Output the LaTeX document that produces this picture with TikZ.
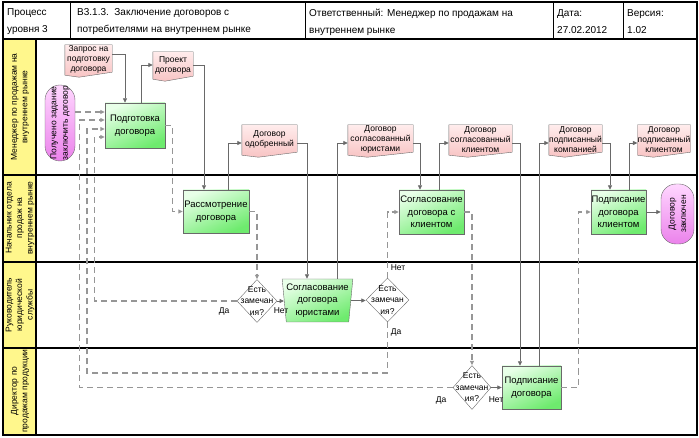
\documentclass[tikz,border=0pt]{standalone}
\usepackage{fontspec}
\setmainfont{Liberation Sans}
\usetikzlibrary{positioning,shapes.geometric,arrows.meta,backgrounds,calc}

\definecolor{laneyellow}{RGB}{255,247,140}
\definecolor{boxlight}{RGB}{232,255,232}
\definecolor{boxdark}{RGB}{110,235,110}
\definecolor{doclight}{RGB}{255,236,236}
\definecolor{docdark}{RGB}{248,196,196}
\definecolor{evlight}{RGB}{255,215,255}
\definecolor{evdark}{RGB}{235,130,235}
\definecolor{linegray}{RGB}{105,105,105}
\definecolor{dashgray}{RGB}{150,150,150}

\tikzset{
  task/.style={rectangle, draw=linegray, top color=boxlight, bottom color=boxdark,
    shading angle=25, inner sep=0pt, align=center, font=\fontsize{9.5}{12.5}\selectfont},
  doc/.style={rectangle, inner sep=0pt, minimum height=29pt, align=center,
    font=\fontsize{8.5}{10}\selectfont},
  docline/.style={draw=linegray, top color=doclight, bottom color=docdark},
  event/.style={rectangle, rounded corners=15pt, draw=linegray, top color=evlight,
    bottom color=evdark, inner sep=0pt},
  evtext/.style={rotate=90, align=center, font=\fontsize{8.5}{11.5}\selectfont},
  decision/.style={diamond, draw=linegray, fill=white, inner sep=0pt,
    minimum width=40pt, minimum height=43pt},
  qtext/.style={align=center, font=\fontsize{8.5}{11.5}\selectfont},
  ans/.style={inner sep=0pt, font=\fontsize{8.5}{10}\selectfont},
  flow/.style={draw=linegray, line width=0.8pt, -{Triangle[length=4.5pt,width=4pt]}},
  ctrl/.style={draw=dashgray, line width=1.2pt, dash pattern=on 6pt off 4pt,
    -{Triangle[length=4.5pt,width=4pt]}},
  lanelabel/.style={rotate=90, align=center, font=\fontsize{8.5}{10.5}\selectfont},
  headtext/.style={anchor=west, align=left, inner sep=0pt, font=\fontsize{10}{17}\selectfont}
}

\begin{document}
\begin{tikzpicture}[x=1pt, y=-1pt]
  \useasboundingbox (0,0) rectangle (699,438);

  % frame, header and lanes
  \fill[laneyellow] (3,39) rectangle (36,435);
  \draw[line width=1.6pt] (3,2) rectangle (697,435);
  \foreach \x in {70,305,553,623}
    \draw[line width=1pt] (\x,2) -- (\x,39);
  \foreach \y in {39,175,262,348}
    \draw[line width=1.6pt] (3,\y) -- (697,\y);
  \draw[line width=1.2pt] (36,39) -- (36,435);

  \node[headtext] (hproc) at (7,22) {Процесс\\уровня 3};
  \node[headtext] (htitle) at (77,22) {В3.1.3.\ \ Заключение договоров с\\потребителями на внутреннем рынке};
  \node[headtext] (hresp) at (309,22) {Ответственный: Менеджер по продажам на\\внутреннем рынке};
  \node[headtext] (hdate) at (557,22) {Дата:\\27.02.2012};
  \node[headtext] (hver) at (627,22) {Версия:\\1.02};

  \node[lanelabel] (lane1) at (20,107) {Менеджер по продажам на\\внутреннем рынке};
  \node[lanelabel] (lane2) at (20,218) {Начальник отдела\\продаж на\\внутреннем рынке};
  \node[lanelabel] (lane3) at (20,305) {Руководитель\\юридической\\службы};
  \node[lanelabel] (lane4) at (20,391) {Директор по\\продажам продукции};

  % functions
  \node[task, minimum width=60pt, minimum height=45pt] (prep) at (135,125.5) {Подготовка\\договора};
  \node[task, minimum width=66pt, minimum height=43pt] (rev) at (216,211.5) {Рассмотрение\\договора};
  \node[task, trapezium, trapezium left angle=97, trapezium right angle=97,
    trapezium stretches=true, minimum width=68pt, minimum height=43pt] (legal) at (317.5,300.5)
    {Согласование\\договора\\юристами};
  \node[task, minimum width=65pt, minimum height=44pt] (cli) at (431.5,212) {Согласование\\договора с\\клиентом};
  \node[task, minimum width=59pt, minimum height=43pt] (sign) at (531.5,387.5) {Подписание\\договора};
  \node[task, minimum width=55pt, minimum height=44pt] (signcli) at (618.5,212) {Подписание\\договора\\клиентом};

  % documents
  \node[doc, minimum width=47pt] (req) at (88.5,59.5) {Запрос на\\подготовку\\договора};
  \node[doc, minimum width=40pt, minimum height=26pt] (proj) at (173,65) {Проект\\договора};
  \node[doc, minimum width=55pt] (docapp) at (269.5,139.5) {Договор\\одобренный};
  \node[doc, minimum width=65pt] (docleg) at (380.5,139.5) {Договор\\согласованный\\юристами};
  \node[doc, minimum width=63pt] (doccli) at (480.5,139.5) {Договор\\согласованный\\клиентом};
  \node[doc, minimum width=53pt] (doccomp) at (575.5,139.5) {Договор\\подписанный\\компанией};
  \node[doc, minimum width=52pt] (doccl2) at (664,139.5) {Договор\\подписанный\\клиентом};
  \begin{pgfonlayer}{background}
    \foreach \d in {req,proj,docapp,docleg,doccli,doccomp,doccl2}
      \draw[docline] (\d.north west) -- (\d.north east) -- ($(\d.south east)+(0,-2)$)
        -- ($(\d.south west)!0.3!(\d.south east)+(0,3)$) -- ($(\d.south west)+(0,1)$) -- cycle;
  \end{pgfonlayer}

  % events
  \node[event, minimum width=30pt, minimum height=76pt,
    label={[evtext]center:Получено задание\\заключить договор}] (start) at (60,123) {};
  \node[event, minimum width=33pt, minimum height=60pt,
    label={[evtext]center:Договор\\заключен}] (end) at (677.5,214) {};

  % decisions
  \node[decision, label={[qtext]center:Есть\\замечан\\ия?}] (d1) at (257,301) {};
  \node[decision, minimum width=43pt, minimum height=44pt,
    label={[qtext]center:Есть\\замечан\\ия?}] (d2) at (387.5,300) {};
  \node[decision, minimum width=38pt, minimum height=44pt,
    label={[qtext]center:Есть\\замечан\\ия?}] (d3) at (472,387.5) {};

  \node[ans] (yes1) at (224,311) {Да};
  \node[ans] (no1) at (281,311) {Нет};
  \node[ans] (no2) at (398,268) {Нет};
  \node[ans] (yes2) at (396,332) {Да};
  \node[ans] (yes3) at (441,400) {Да};
  \node[ans] (no3) at (496,400) {Нет};

  % documents in and out
  \draw[flow] ([yshift=5.5pt]req.east) -| ([xshift=-10pt]prep.north);
  \draw[flow] ([xshift=6pt]prep.north) |- (proj.west);
  \draw[flow] (proj.east) -| ([xshift=-12pt]rev.north);
  \draw[flow] ([xshift=12pt]rev.north) |- ([yshift=-3.5pt]docapp.west);
  \draw[flow] ([yshift=-3.5pt]docapp.east) -| ([xshift=-10.5pt]legal.north);
  \draw[flow] ([xshift=19.5pt]legal.north) |- ([yshift=-3.5pt]docleg.west);
  \draw[flow] ([yshift=-3.5pt]docleg.east) -| ([xshift=-11.5pt]cli.north);
  \draw[flow] ([xshift=7.5pt]cli.north) |- ([yshift=-3.5pt]doccli.west);
  \draw[flow] ([yshift=-3.5pt]doccli.east) -| ([xshift=-11.5pt]sign.north);
  \draw[flow] ([xshift=7.5pt]sign.north) |- ([yshift=-3.5pt]doccomp.west);
  \draw[flow] ([yshift=-3.5pt]doccomp.east) -| ([xshift=-8.5pt]signcli.north);
  \draw[flow] ([xshift=10.5pt]signcli.north) |- ([yshift=-3.5pt]doccl2.west);
  \draw[flow] (signcli.east) -- (signcli.east -| end.west);
  \draw[flow] (d1.east) -- (d1.east -| legal.west);
  \draw[flow] (legal.east) -- (legal.east -| d2.west);
  \draw[flow] (d3.east) -- (sign.west);

  % control flow
  \coordinate (pin1) at ([yshift=13.5pt]prep.west);
  \coordinate (pin2) at ([yshift=5.5pt]prep.west);
  \coordinate (pin3) at ([yshift=-3.5pt]prep.west);
  \coordinate (pin4) at ([yshift=-11.5pt]prep.west);
  \coordinate (ret2) at (87,373);
  \draw[ctrl] (start.east |- pin1) -- (pin1);
  \draw[ctrl] (prep.east) -- ++(7,0) |- (rev.west);
  \draw[ctrl] (rev.east) -| (d1.north);
  \draw[ctrl] (d1.west) -| ([xshift=-10pt]pin4) -- (pin4);
  \draw[ctrl] (d2.north) |- (cli.west);
  \draw[ctrl] (d2.south) |- (ret2) |- (pin3);
  \draw[ctrl] (cli.east) -| (d3.north);
  \draw[ctrl] (d3.west) -| ([xshift=-25pt]pin2) -- (pin2);
  \draw[ctrl] (sign.east) -- ++(17,0) |- (signcli.west);
\end{tikzpicture}
\end{document}
